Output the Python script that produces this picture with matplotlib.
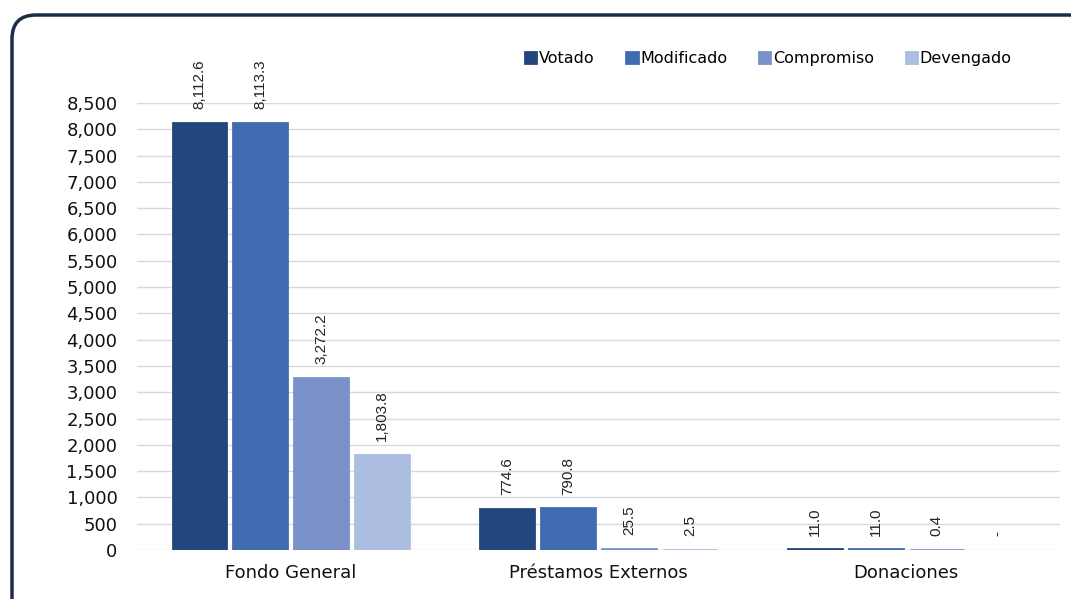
import matplotlib.pyplot as plt
import numpy as np
from matplotlib.patches import FancyBboxPatch

categorias = ["Fondo General", "Préstamos Externos", "Donaciones"]
series = ["Votado", "Modificado", "Compromiso", "Devengado"]
votado = [8112.6, 774.6, 11.0]
modificado = [8113.3, 790.8, 11.0]
compromiso = [3272.2, 25.5, 0.4]
devengado = [1803.8, 2.5, 0.0]
colores = ["#23477c", "#416bb0", "#7a90c9", "#abbde0"]

plt.rcParams['font.family'] = ['DejaVu Sans']

fig = plt.figure(figsize=(10.71, 5.99), dpi=100)

# marco redondeado
bg = fig.add_axes([0, 0, 1, 1])
bg.set_xlim(0, 1071)
bg.set_ylim(599, 0)
bg.axis("off")
marco = FancyBboxPatch((12, 15), 1080, 620, boxstyle="round,pad=0,rounding_size=24",
                       fc="none", ec="#1b2c49", lw=2.5, clip_on=False)
bg.add_patch(marco)

ax = fig.add_axes([137 / 1071, 1 - 550 / 599, (1060 - 137) / 1071, (550 - 103) / 599])
ax.set_zorder(2)
ax.patch.set_alpha(0)

x = np.arange(len(categorias))
ancho = 0.175
paso = 0.198
datos = [votado, modificado, compromiso, devengado]
for i, (nombre, vals) in enumerate(zip(series, datos)):
    pos = x + paso * (i - 1.5)
    grosor = [2 if v > 0 else 0 for v in vals]
    ax.bar(pos, vals, ancho, color=colores[i], label=nombre, zorder=3,
           edgecolor=colores[i], linewidth=grosor)
    for px, v in zip(pos, vals):
        txt = "-" if v == 0 else f"{v:,.1f}"
        ax.annotate(txt, (px, v), xytext=(0, 10), textcoords="offset points",
                    rotation=90, ha="center", va="bottom", fontsize=11,
                    family=['Liberation Sans Narrow', 'Liberation Sans'],
                    color="#222222", annotation_clip=False)

ax.set_xlim(-0.5, 2.5)
ax.set_ylim(0, 8500)
ax.set_yticks(np.arange(0, 8501, 500))
ax.yaxis.set_major_formatter(plt.FuncFormatter(lambda v, p: f"{v:,.0f}"))
ax.set_xticks(x)
ax.set_xticklabels(categorias)
ax.tick_params(axis="both", length=0, labelsize=13, colors="#111111")
ax.tick_params(axis="y", pad=14)
ax.tick_params(axis="x", pad=10)
ax.grid(axis="y", color="#d9d9d9", lw=1, zorder=0)
for s in ax.spines.values():
    s.set_visible(False)

ax.legend(loc="center right", bbox_to_anchor=(0.954, 1.1), ncol=4, frameon=False,
          fontsize=11.5, handlelength=0.7, handleheight=0.7, handletextpad=0.15,
          columnspacing=2.0, borderaxespad=0)

plt.savefig("out.png", dpi=100)
